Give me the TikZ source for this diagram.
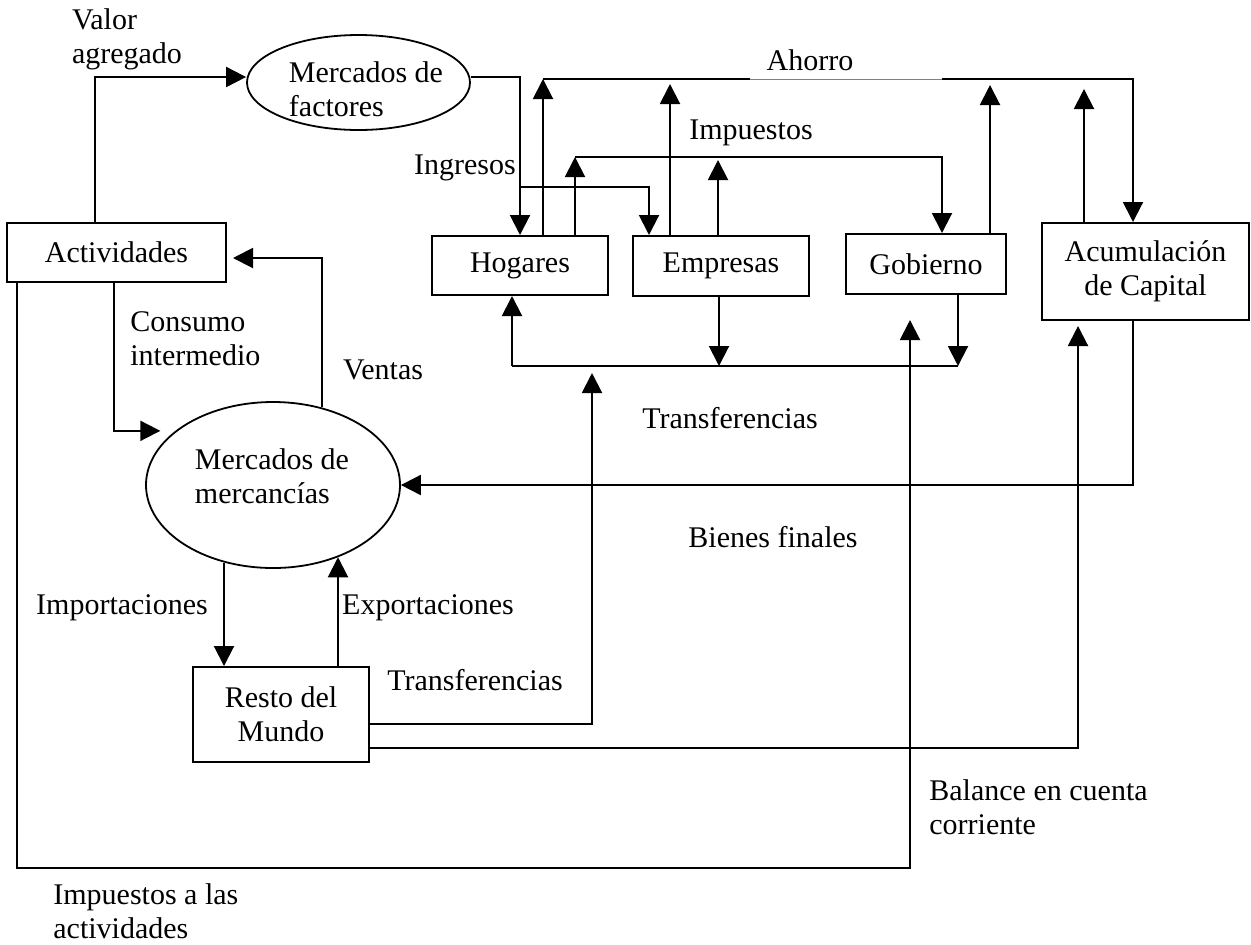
\documentclass[tikz,border=0pt]{standalone}
\usepackage{fontspec}
\setmainfont{Liberation Serif}
\usetikzlibrary{arrows.meta,shapes.geometric}
\begin{document}
\begin{tikzpicture}[x=0.5pt,y=-0.5pt,
  every node/.style={font=\fontsize{15}{17}\selectfont, inner sep=0pt},
  box/.style={draw, line width=1pt, rectangle, align=center},
  ell/.style={draw, line width=0.9pt, ellipse},
  conn/.style={line width=1pt},
  faint/.style={draw=gray, line width=0.5pt},
  arr/.style={line width=1pt, -{Triangle[length=10pt,width=10pt]}},
  lbl/.style={align=left}]
\useasboundingbox (0,0) rectangle (1251,944);

% boxes
\node[box, minimum width=109.5pt, minimum height=29.5pt] (act) at (116.5,252.5) {Actividades};
\node[box, minimum width=88pt, minimum height=29.5pt] (hog) at (520,265.5) {Hogares};
\node[box, minimum width=88pt, minimum height=30pt] (emp) at (721,266) {Empresas};
\node[box, minimum width=80pt, minimum height=30pt] (gob) at (926,264) {Gobierno};
\node[box, minimum width=103.5pt, minimum height=48.5pt] (acu) at (1145.5,271.5) {Acumulación\\de Capital};
\node[box, minimum width=88pt, minimum height=47.5pt] (res) at (281,714.5) {Resto del\\Mundo};

% ellipses
\node[ell, minimum width=111.5pt, minimum height=47.5pt] (fac) at (358.5,82.5) {};
\node[lbl] (factxt) at (366,89) {Mercados de\\factores};
\node[ell, minimum width=127pt, minimum height=83pt] (mer) at (273,485) {};
\node[lbl] (mertxt) at (272,476) {Mercados de\\mercancías};

% labels
\node[lbl] (lvalor) at (127,39.5) {Valor\\agregado};
\node (lahorro) at (810,60) {Ahorro};
\node (limp) at (751,133) {Impuestos};
\node (ling) at (465,168) {Ingresos};
\node[lbl, anchor=west] (lcons) at (130,339) {Consumo\\intermedio};
\node (lventas) at (383,370) {Ventas};
\node (ltr1) at (730,418) {Transferencias};
\node (lbien) at (773,537) {Bienes finales};
\node (limpo) at (122,608) {Importaciones};
\node (lexpo) at (428,608) {Exportaciones};
\node (ltr2) at (475,680) {Transferencias};
\node[lbl, anchor=west] (lbal) at (929,807.5) {Balance en cuenta\\corriente};
\node[lbl, anchor=west] (limpact) at (53,911) {Impuestos a las\\actividades};

% helper coordinates
\coordinate (ahL) at (543,79);
\coordinate (ahG1) at (750,79);
\coordinate (ahG2) at (942,79);
\coordinate (imL) at (575,157);
\coordinate (trL) at (512,366);
\coordinate (trR) at (592,366);
\coordinate (exX) at ([xshift=-16pt]res.north east);
\coordinate (imX) at ([xshift=16pt]res.north west);
\coordinate (gobD) at ([xshift=16pt]gob.south);
\coordinate (empD) at ([xshift=-1pt]emp.south);
\coordinate (empU) at ([xshift=-1.5pt]emp.north);
\coordinate (empA) at ([xshift=-25.5pt]emp.north);
\coordinate (gobA) at ([xshift=-8.5pt]gob.north east);
\coordinate (acuA) at ([xshift=21.5pt]acu.north west);

% valor agregado
\draw[arr] ([xshift=44.5pt]act.north west) |- ([yshift=2.75pt]fac.west);
% factores -> hogares
\draw[arr] ([yshift=2.75pt]fac.east) -| (hog.north);
% ingresos -> empresas
\draw[arr] ([yshift=24pt]hog.north) -| ([xshift=8.5pt]emp.north west);

% ahorro
\draw[arr] (hog.north -| ahL) -- (ahL);
\draw[conn] (ahL) -- (ahG1);
\draw[faint] (ahG1) -- (ahG2);
\draw[arr] (ahG2) -| ([xshift=-6.25pt]acu.north);
\draw[arr, shorten >=2.5pt] (empA) -- (empA |- ahL);
\draw[arr, shorten >=3pt] (gobA) -- (gobA |- ahL);
\draw[arr, shorten >=5pt] (acuA) -- (acuA |- ahL);

% impuestos
\draw[arr] (hog.north -| imL) -- (imL);
\draw[arr] (imL) -| ([xshift=8pt]gob.north);
\draw[arr, shorten >=1.5pt] (empU) -- (empU |- imL);

% transferencias (internal)
\draw[conn] (trL) -- (gobD |- trL);
\draw[arr] (trL) -- (hog.south -| trL);
\draw[arr] (empD) -- (empD |- trL);
\draw[arr] (gobD) -- (gobD |- trL);

% resto del mundo transfers and balance
\draw[arr, shorten >=3.5pt] ([yshift=-4.75pt]res.east) -| (trR);
\draw[arr, shorten >=2.5pt] ([yshift=-16.75pt]res.east) -| ([xshift=18.5pt]acu.south west);

% bienes finales
\draw[arr] ([xshift=-6.25pt]acu.south) |- (mer.east);

% impuestos a las actividades
\draw[arr, shorten >=12.5pt] ([xshift=5.5pt]act.south west) -- ++(0,585) -| ([xshift=-8pt]gob.south);

% consumo intermedio
\draw[arr, shorten >=7.5pt] ([xshift=-1.25pt]act.south) |- (mer.151);
% ventas
\draw[arr, shorten >=3pt] (mer.58) |- ([yshift=-2.75pt]act.east);

% importaciones / exportaciones
\draw[arr] (imX |- mer.-122) -- (imX);
\draw[arr] (exX) -- (exX |- mer.-48);
\end{tikzpicture}
\end{document}
